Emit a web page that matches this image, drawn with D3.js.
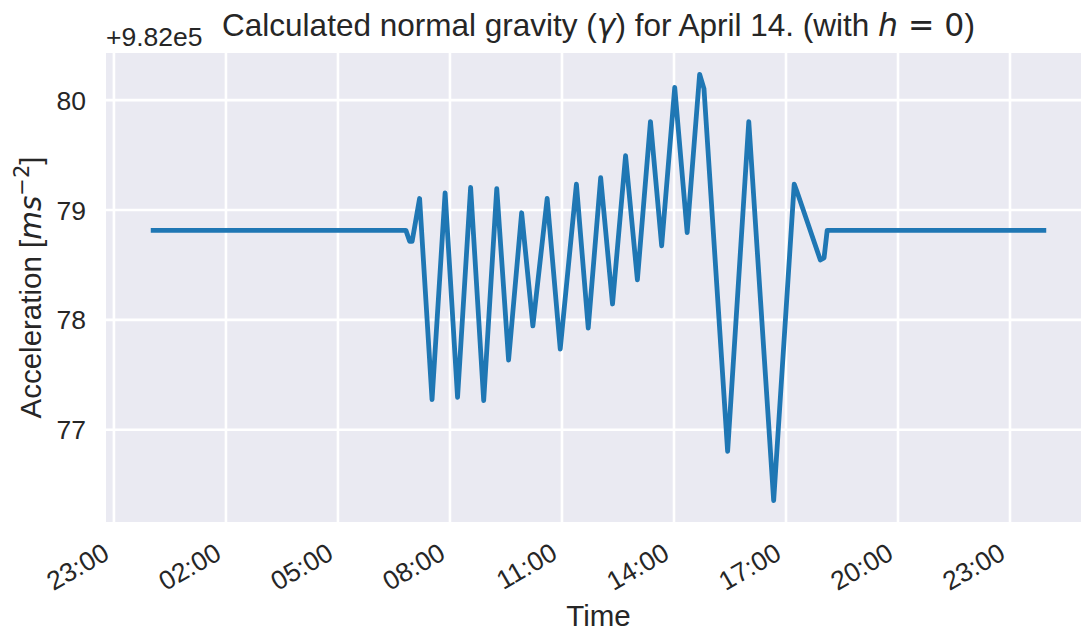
<!DOCTYPE html>
<html>
<head>
<meta charset="utf-8">
<script src="https://cdn.jsdelivr.net/npm/d3@7"></script>
<style>
  html, body { margin: 0; padding: 0; background: #ffffff; }
  svg { display: block; }
  text { font-family: Arial, "Liberation Sans", sans-serif; fill: #262626; }
</style>
</head>
<body>
<svg id="chart" width="1081" height="635"></svg>
<script>
// ---- data ----
const times = [
  "00:00","06:50","06:56","07:00","07:12","07:32","07:53","08:13","08:34","08:55",
  "09:16","09:35","09:56","10:14","10:37","10:58","11:24","11:43","12:03","12:22",
  "12:43","13:02","13:23","13:41","14:02","14:22","14:42","14:49","15:27","16:01",
  "16:41","17:14","17:18","17:56","18:02","18:07","23:59"
];
const values = [
  78.81,78.81,78.71,78.71,79.10,77.27,79.15,77.29,79.20,77.26,
  79.19,77.63,78.97,77.94,79.10,77.73,79.23,77.92,79.29,78.14,
  79.49,78.36,79.80,78.67,80.11,78.79,80.23,80.10,76.80,79.80,
  76.35,79.23,79.17,78.54,78.56,78.81,78.81
];
const day = "2020-04-14";
const xTickStamps = ["2020-04-13T23:00","2020-04-14T02:00","2020-04-14T05:00","2020-04-14T08:00",
  "2020-04-14T11:00","2020-04-14T14:00","2020-04-14T17:00","2020-04-14T20:00","2020-04-14T23:00"];
const xTickLabels = ["23:00","02:00","05:00","08:00","11:00","14:00","17:00","20:00","23:00"];
const yTicks = [77, 78, 79, 80];
const yTickLabels = ["77", "78", "79", "80"];
const offsetLabel = "+9.82e5";

// ---- layout ----
const svg = d3.select("#chart");
const L = 106, R = 1091, T = 53, B = 522;
const parse = d3.timeParse("%Y-%m-%dT%H:%M");
const data = times.map((t, i) => ({ t: parse(day + "T" + t), v: values[i] }));

function pad(ext, f) { const s = ext[1] - ext[0]; return [ext[0] - s * f, ext[1] + s * f]; }
const tExt = d3.extent(data, d => +d.t);
const tDom = pad(tExt, 0.05);
const x = d3.scaleTime().domain([new Date(tDom[0]), new Date(tDom[1])]).range([L, R]);
const y = d3.scaleLinear().domain(pad(d3.extent(values), 0.05)).range([B, T]);

svg.append("defs").append("clipPath").attr("id", "clip")
  .append("rect").attr("x", L).attr("y", T).attr("width", R - L).attr("height", B - T);

// background
svg.append("rect").attr("x", L).attr("y", T).attr("width", R - L).attr("height", B - T)
  .attr("fill", "#eaeaf2");

// grid + x axis
const xTickDates = xTickStamps.map(parse);
const gx = svg.append("g").attr("transform", `translate(0,${B})`)
  .call(d3.axisBottom(x).tickValues(xTickDates).tickSize(-(B - T)).tickFormat((d, i) => xTickLabels[i]).tickPadding(0));
gx.select(".domain").remove();
gx.selectAll(".tick line").attr("stroke", "#ffffff").attr("stroke-width", 2.6);
gx.selectAll(".tick text")
  .attr("font-size", 26.5)
  .attr("fill", "#262626")
  .attr("text-anchor", "end")
  .attr("dy", null)
  .attr("y", null)
  .attr("transform", "translate(-3,36) rotate(-30)");

// grid + y axis
const gy = svg.append("g").attr("transform", `translate(${L},0)`)
  .call(d3.axisLeft(y).tickValues(yTicks).tickSize(-(R - L)).tickFormat((d, i) => yTickLabels[i]).tickPadding(20));
gy.select(".domain").remove();
gy.selectAll(".tick line").attr("stroke", "#ffffff").attr("stroke-width", 2.6);
gy.selectAll(".tick text").attr("font-size", 26.5).attr("fill", "#262626").attr("dy", "0.36em");

// line
const line = d3.line().x(d => x(d.t)).y(d => y(d.v));
svg.append("path").datum(data)
  .attr("clip-path", "url(#clip)")
  .attr("d", line)
  .attr("fill", "none")
  .attr("stroke", "#1f77b4")
  .attr("stroke-width", 4.8)
  .attr("stroke-linejoin", "round")
  .attr("stroke-linecap", "butt");

// offset text
svg.append("text").attr("x", L).attr("y", 46).attr("font-size", 26.5).text(offsetLabel);

// title
const title = svg.append("text").attr("x", (L + R) / 2).attr("y", 36)
  .attr("text-anchor", "middle").attr("font-size", 31.5);
title.append("tspan").text("Calculated normal gravity (");
title.append("tspan").attr("font-family", "DejaVu Sans").attr("font-style", "italic").text("γ");
title.append("tspan").text(") for April 14. (with ");
title.append("tspan").attr("font-family", "DejaVu Sans").attr("font-style", "italic").text("h");
title.append("tspan").attr("font-family", "DejaVu Sans").text(" = 0");
title.append("tspan").text(")");

// x label
svg.append("text").attr("x", (L + R) / 2).attr("y", 626).attr("text-anchor", "middle")
  .attr("font-size", 29.5).text("Time");

// y label
const yl = svg.append("text").attr("transform", `translate(41,${(T + B) / 2}) rotate(-90)`)
  .attr("text-anchor", "middle").attr("font-size", 29.5);
yl.append("tspan").text("Acceleration [");
yl.append("tspan").attr("font-family", "DejaVu Sans").attr("font-style", "italic").text("ms");
yl.append("tspan").attr("font-family", "DejaVu Sans").attr("font-size", 21).attr("dy", -12).text("−2");
yl.append("tspan").attr("dy", 12).text("]");
</script>
</body>
</html>
